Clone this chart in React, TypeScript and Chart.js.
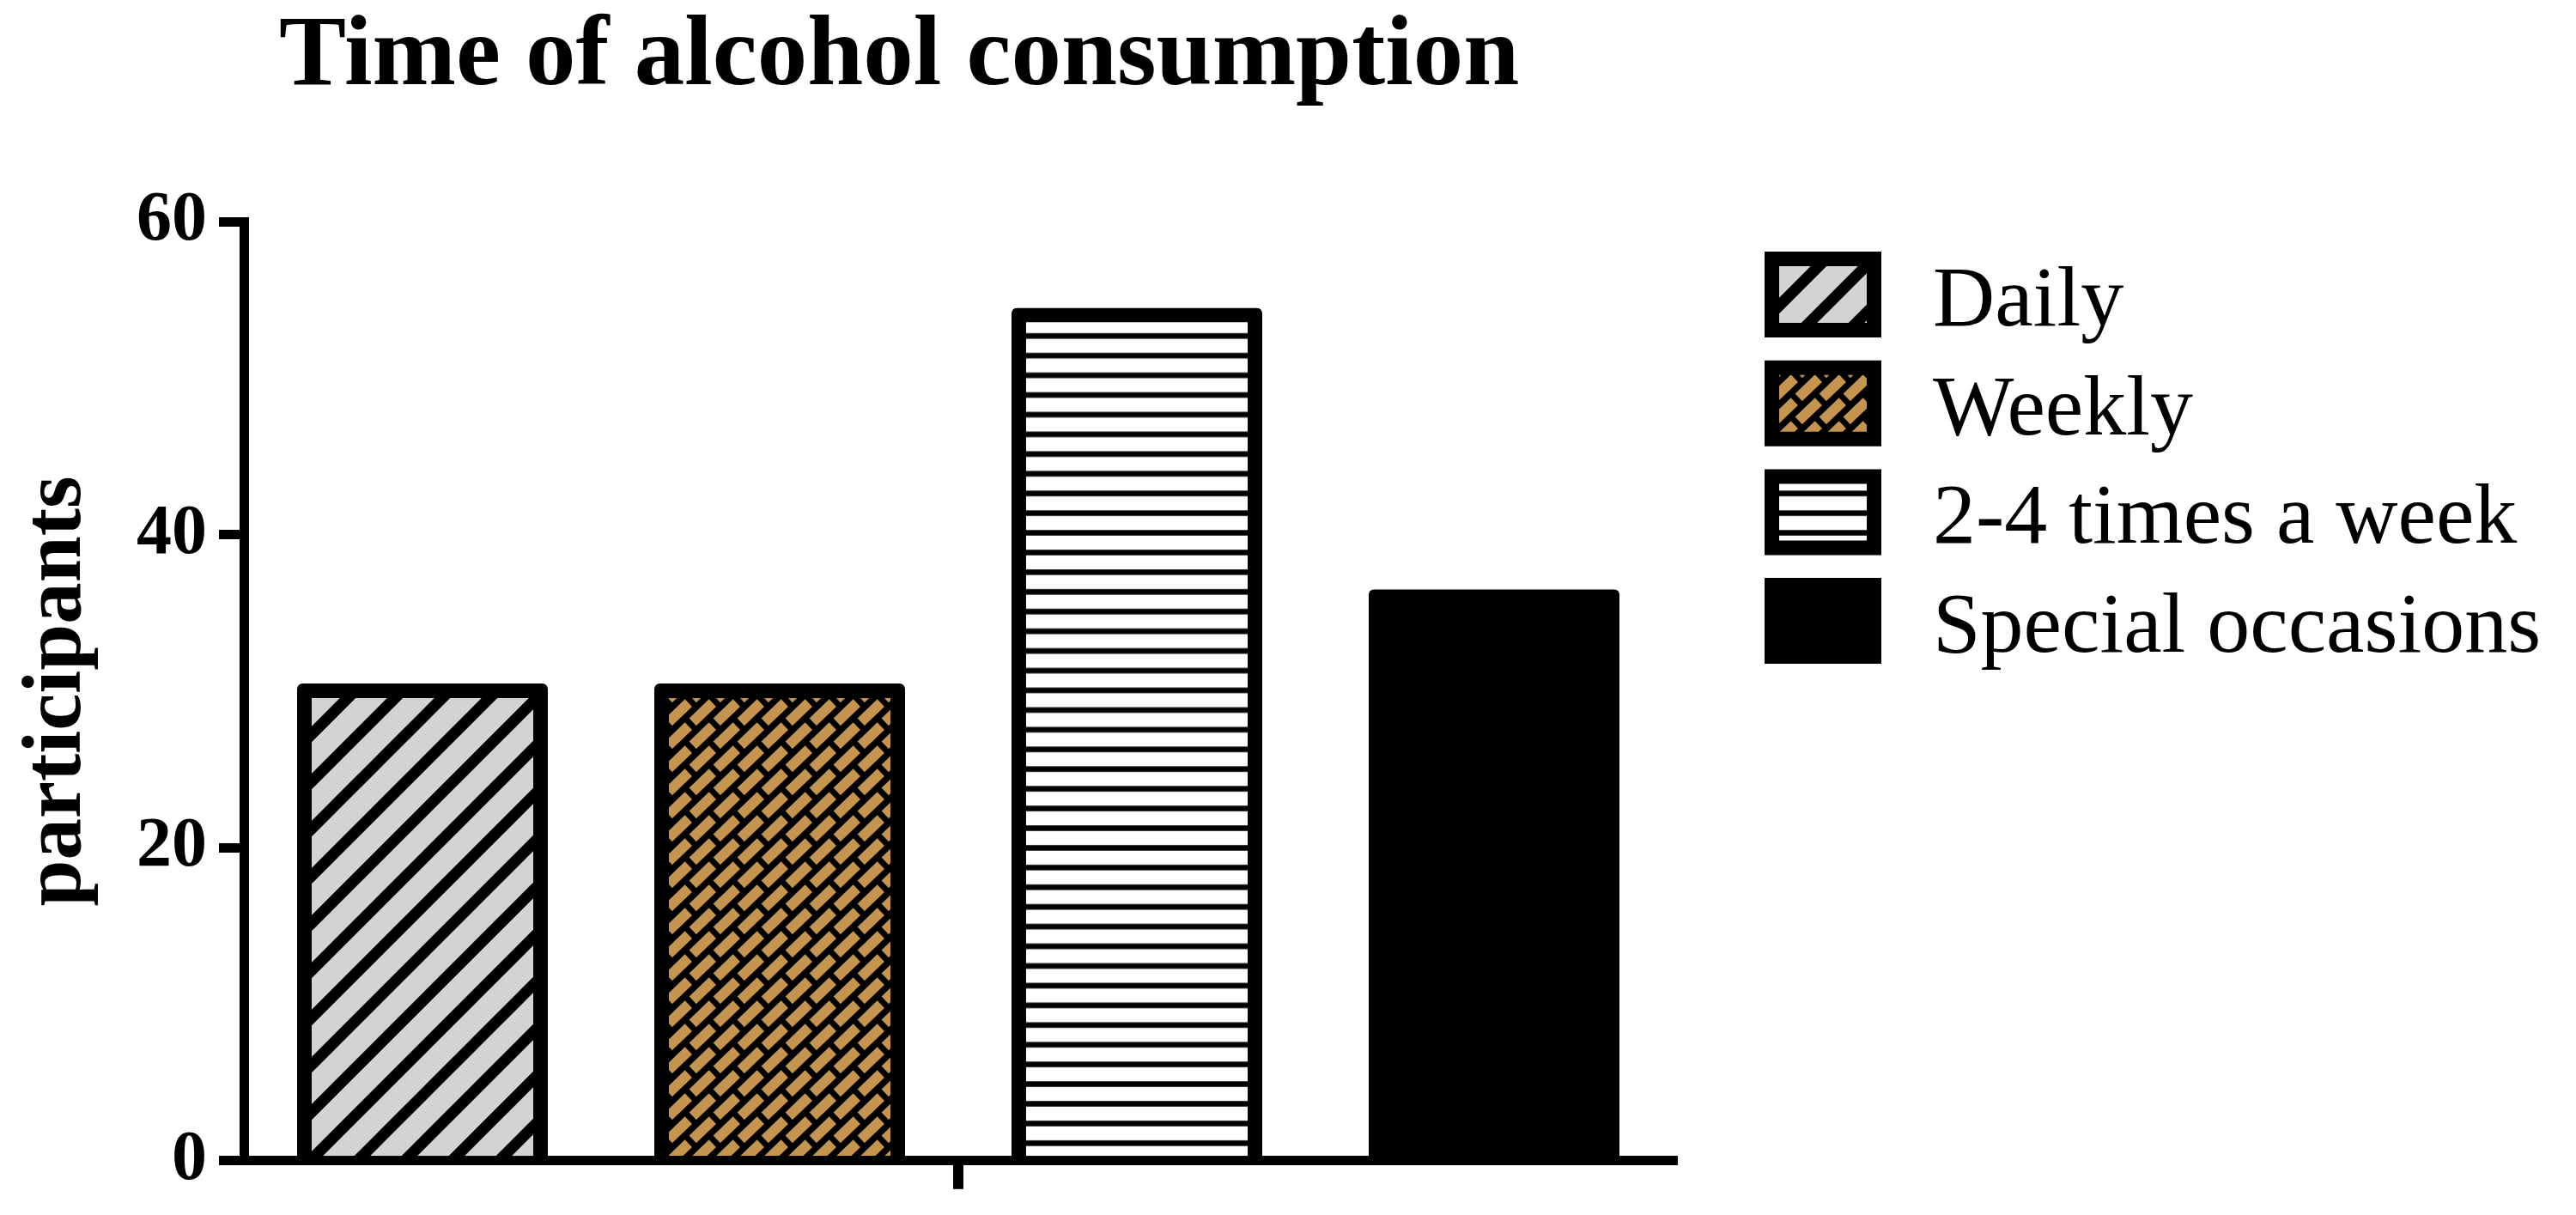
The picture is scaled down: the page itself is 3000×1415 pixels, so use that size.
import React, { useEffect, useRef } from 'react';
import { Chart, registerables } from 'chart.js';

Chart.register(...registerables);

// ---- data ----
const chartTitle = 'Time of alcohol consumption';
const yAxisTitle = 'participants';
const categories = [''];
const seriesLabels = ['Daily', 'Weekly', '2-4 times a week', 'Special occasions'];
const seriesValues = [30, 30, 54, 36];
const yTickValues = [0, 20, 40, 60];

// ---- style ----
const SERIF = '"Liberation Serif", "Times New Roman", serif';
const GRAY = '#D3D3D3';
const TAN = '#C5944F';
const STROKE = 17;
const TOP_OVERHANG = 9;

function makeTile(w: number, h: number, draw: (g: CanvasRenderingContext2D) => void) {
  const c = document.createElement('canvas');
  c.width = w;
  c.height = h;
  const g = c.getContext('2d') as CanvasRenderingContext2D;
  draw(g);
  return c;
}

function makePatterns(ctx: CanvasRenderingContext2D) {
  // diagonal "/" hatch on light gray
  const diag = makeTile(55, 55, (g) => {
    g.fillStyle = GRAY;
    g.fillRect(0, 0, 55, 55);
    g.strokeStyle = '#000';
    g.lineWidth = 13;
    g.lineCap = 'butt';
    for (const c of [8 - 55, 8, 63, 118]) {
      g.beginPath();
      g.moveTo(c + 40, -40);
      g.lineTo(-40, c + 40);
      g.stroke();
    }
  });
  // diagonal bricks on black
  const bw = 28;
  const bh = 27;
  const bricks = makeTile(bw, bh, (g) => {
    g.fillStyle = '#000';
    g.fillRect(0, 0, bw, bh);
    g.fillStyle = TAN;
    const ang = -Math.atan2(bh, bw);
    const L = 32;
    const W = 12;
    for (const dx of [-bw, 0, bw]) {
      for (const dy of [-bh, 0, bh]) {
        g.save();
        g.translate(6.3 + dx, 19.7 + dy);
        g.rotate(ang);
        g.fillRect(-L / 2, -W / 2, L, W);
        g.restore();
      }
    }
  });
  // horizontal lines on white
  const horiz = makeTile(10, 23, (g) => {
    g.fillStyle = '#fff';
    g.fillRect(0, 0, 10, 23);
    g.fillStyle = '#000';
    g.fillRect(0, 11.5 - 3.25, 10, 6.5);
  });

  const pDiag = ctx.createPattern(diag, 'repeat') as CanvasPattern;
  const pBricks = ctx.createPattern(bricks, 'repeat') as CanvasPattern;
  const pHoriz = ctx.createPattern(horiz, 'repeat') as CanvasPattern;
  try {
    pHoriz.setTransform(new DOMMatrix([1, 0, 0, 22.93 / 23, 0, -10.07]));
  } catch (e) {
    /* ignore */
  }
  return [pDiag, pBricks, pHoriz, '#000'];
}

const overlayPlugin = {
  id: 'overlay',
  afterDatasetsUpdate(chart: any) {
    // emulate a stroke centred on the bar's top edge
    chart.data.datasets.forEach((_ds: any, i: number) => {
      const meta = chart.getDatasetMeta(i);
      meta.data.forEach((el: any) => {
        el.y -= TOP_OVERHANG;
      });
    });
  },
  afterDraw(chart: any) {
    const ctx: CanvasRenderingContext2D = chart.ctx;
    ctx.save();
    ctx.fillStyle = '#000';
    ctx.textAlign = 'left';
    ctx.textBaseline = 'alphabetic';
    ctx.font = `bold 117px ${SERIF}`;
    ctx.fillText(chartTitle, 325, 98);

    chart.data.datasets.forEach((ds: any, i: number) => {
      const top = 293 + i * 126.7;
      ctx.beginPath();
      ctx.rect(2055 + STROKE / 2, top + STROKE / 2, 136 - STROKE, 100 - STROKE);
      ctx.fillStyle = ds.backgroundColor;
      ctx.fill();
      ctx.lineWidth = STROKE;
      ctx.lineJoin = 'miter';
      ctx.strokeStyle = '#000';
      ctx.stroke();
      ctx.fillStyle = '#000';
      ctx.font = `100px ${SERIF}`;
      ctx.fillText(ds.label, 2251, top + 86);
    });
    ctx.restore();
  },
};

export default function App() {
  const ref = useRef<HTMLCanvasElement | null>(null);

  useEffect(() => {
    document.body.style.margin = '0';
    const canvas = ref.current;
    if (!canvas) return;
    const ctx = canvas.getContext('2d') as CanvasRenderingContext2D;
    const fills = makePatterns(ctx);

    const chart = new Chart(canvas, {
      type: 'bar',
      data: {
        labels: categories,
        datasets: seriesLabels.map((label, i) => ({
          label,
          data: [seriesValues[i]],
          backgroundColor: fills[i] as any,
          borderColor: '#000',
          // solid black bar needs no separate outline (avoids a seam)
          borderWidth: fills[i] === '#000' ? 0 : STROKE,
          borderRadius: 6,
          borderSkipped: 'start' as const,
        })),
      },
      options: {
        responsive: false,
        animation: false,
        devicePixelRatio: 1,
        layout: { padding: { left: 0, right: 1052, top: 258, bottom: 0 } },
        datasets: { bar: { categoryPercentage: 1, barPercentage: 0.702 } },
        plugins: {
          legend: { display: false },
          title: { display: false },
          tooltip: { enabled: false },
        },
        scales: {
          x: {
            type: 'category',
            offset: true,
            z: 1,
            grid: {
              display: true,
              drawOnChartArea: false,
              drawTicks: true,
              tickLength: 33,
              lineWidth: 12,
              color: '#000',
              offset: false,
            },
            border: { display: true, width: 11, color: '#000' },
            ticks: { display: true, color: '#000' },
            afterFit: (s: any) => {
              s.height = 57;
            },
          },
          y: {
            min: yTickValues[0],
            max: yTickValues[yTickValues.length - 1],
            z: 1,
            afterBuildTicks: (s: any) => {
              s.ticks = yTickValues.map((v) => ({ value: v }));
            },
            ticks: {
              stepSize: 20,
              color: '#000',
              padding: 14,
              font: { family: SERIF, size: 82, weight: 'bold' },
            },
            grid: {
              display: true,
              drawOnChartArea: false,
              drawTicks: true,
              tickLength: 29,
              lineWidth: 11,
              color: '#000',
            },
            border: { display: true, width: 11, color: '#000' },
            title: {
              display: true,
              text: yAxisTitle,
              color: '#000',
              font: { family: SERIF, size: 97, weight: 'bold' },
              padding: { top: 10, bottom: 0 },
            },
            afterFit: (s: any) => {
              s.width = 284;
            },
          },
        },
      } as any,
      plugins: [overlayPlugin],
    });

    return () => {
      chart.destroy();
    };
  }, []);

  return (
    <div style={{ position: 'absolute', left: 0, top: 0, width: 3000, height: 1415, background: '#fff' }}>
      <canvas ref={ref} width={3000} height={1415} style={{ display: 'block', width: 3000, height: 1415 }} />
    </div>
  );
}
